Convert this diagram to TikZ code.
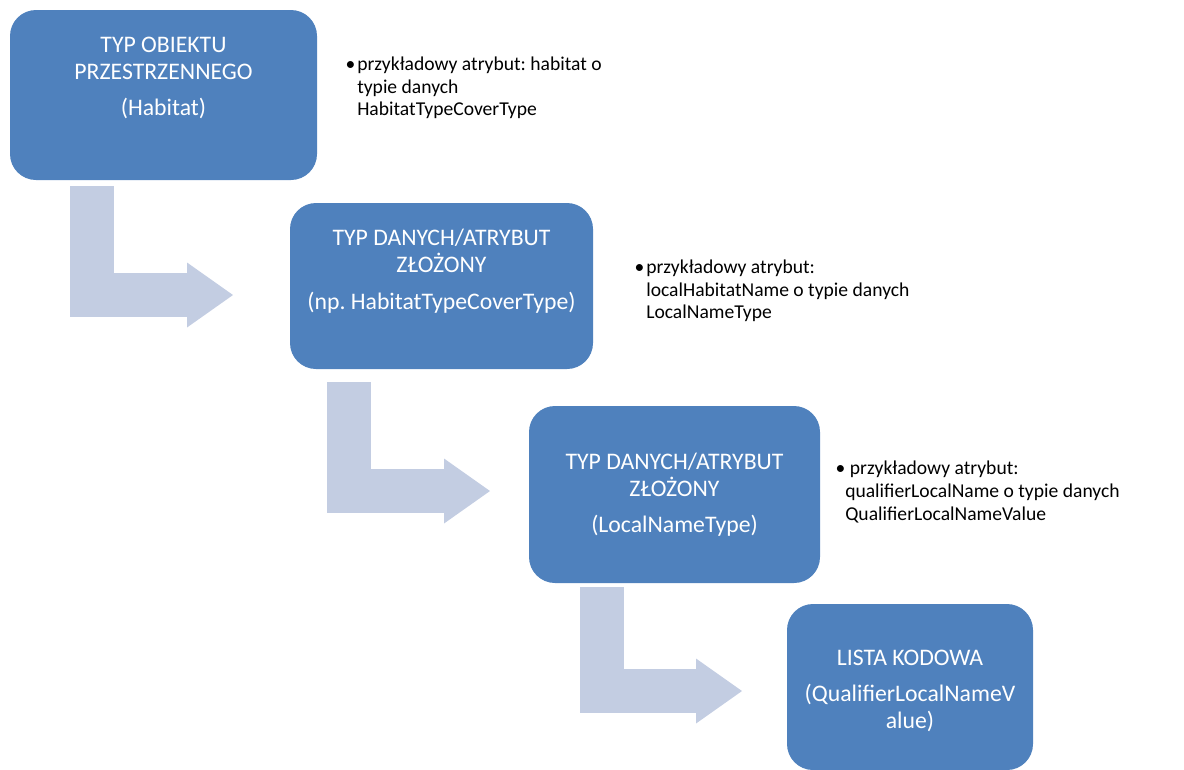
\documentclass[tikz,border=0pt]{standalone}
\usepackage{fontspec}
\setmainfont{Carlito}
\usetikzlibrary{arrows.meta}
\definecolor{boxblue}{RGB}{79,129,189}
\definecolor{arrowblue}{RGB}{195,205,226}
\frenchspacing

\begin{document}
\begin{tikzpicture}[x=0.75pt, y=-0.75pt,
    blok/.style={rectangle, rounded corners=19.5pt, fill=boxblue, text=white, align=center, inner sep=0pt, font=\fontsize{17.8}{20.25}\selectfont},
    opis/.style={anchor=west, align=left, inner sep=0pt, font=\fontsize{14.7}{16.9}\selectfont},
    zgiecie/.style={draw=arrowblue, line width=33pt, line join=miter, -{Triangle[length=34.5pt, width=48.75pt, line width=0pt]}}]
				\useasboundingbox (0,0) rectangle (1184,769);
				\node[blok, minimum width=230.25pt, minimum height=127.5pt] (OB)at(163.5, 95) {TYP OBIEKTU\\PRZESTRZENNEGO\\[7pt](Habitat)\\[8pt]\mbox{}};
				\node[blok, minimum width=227.25pt, minimum height=124.5pt] (TD1)at(441.5, 286) {TYP DANYCH/ATRYBUT\\ZŁOŻONY\\[7pt](np. HabitatTypeCoverType)\\[5pt]\mbox{}};
				\node[blok, minimum width=218.25pt, minimum height=132.75pt] (TD2)at(674.5, 494.5) {TYP DANYCH/ATRYBUT\\ZŁOŻONY\\[7pt](LocalNameType)};
				\node[blok, minimum width=184.5pt, minimum height=124.5pt] (LK)at(910, 687) {\rule{0pt}{17.5pt}LISTA KODOWA\\[7pt](QualifierLocalNameV\\alue)};
				\node[opis] (N1)at(357, 88) {\llap{•\hspace{1.5pt}}przykładowy atrybut: habitat o\\typie danych\\HabitatTypeCoverType};
				\node[opis] (N2)at(646, 291) {\llap{•\hspace{1.5pt}}przykładowy atrybut:\\localHabitatName o typie danych\\LocalNameType};
				\node[opis] (N3)at(845, 492) {\llap{•}\hspace{3.5pt}przykładowy atrybut:\\qualifierLocalName o typie danych\\QualifierLocalNameValue};
				\coordinate (a1)at(92, 186);
				\coordinate (b1)at(233, 295);
				\coordinate (a2)at(349, 382);
				\coordinate (b2)at(490, 491);
				\coordinate (a3)at(601.5, 587);
				\coordinate (b3)at(742, 691);
				\draw[zgiecie] (a1) |- (b1);
				\draw[zgiecie] (a2) |- (b2);
				\draw[zgiecie] (a3) |- (b3);
			\end{tikzpicture}
\end{document}
